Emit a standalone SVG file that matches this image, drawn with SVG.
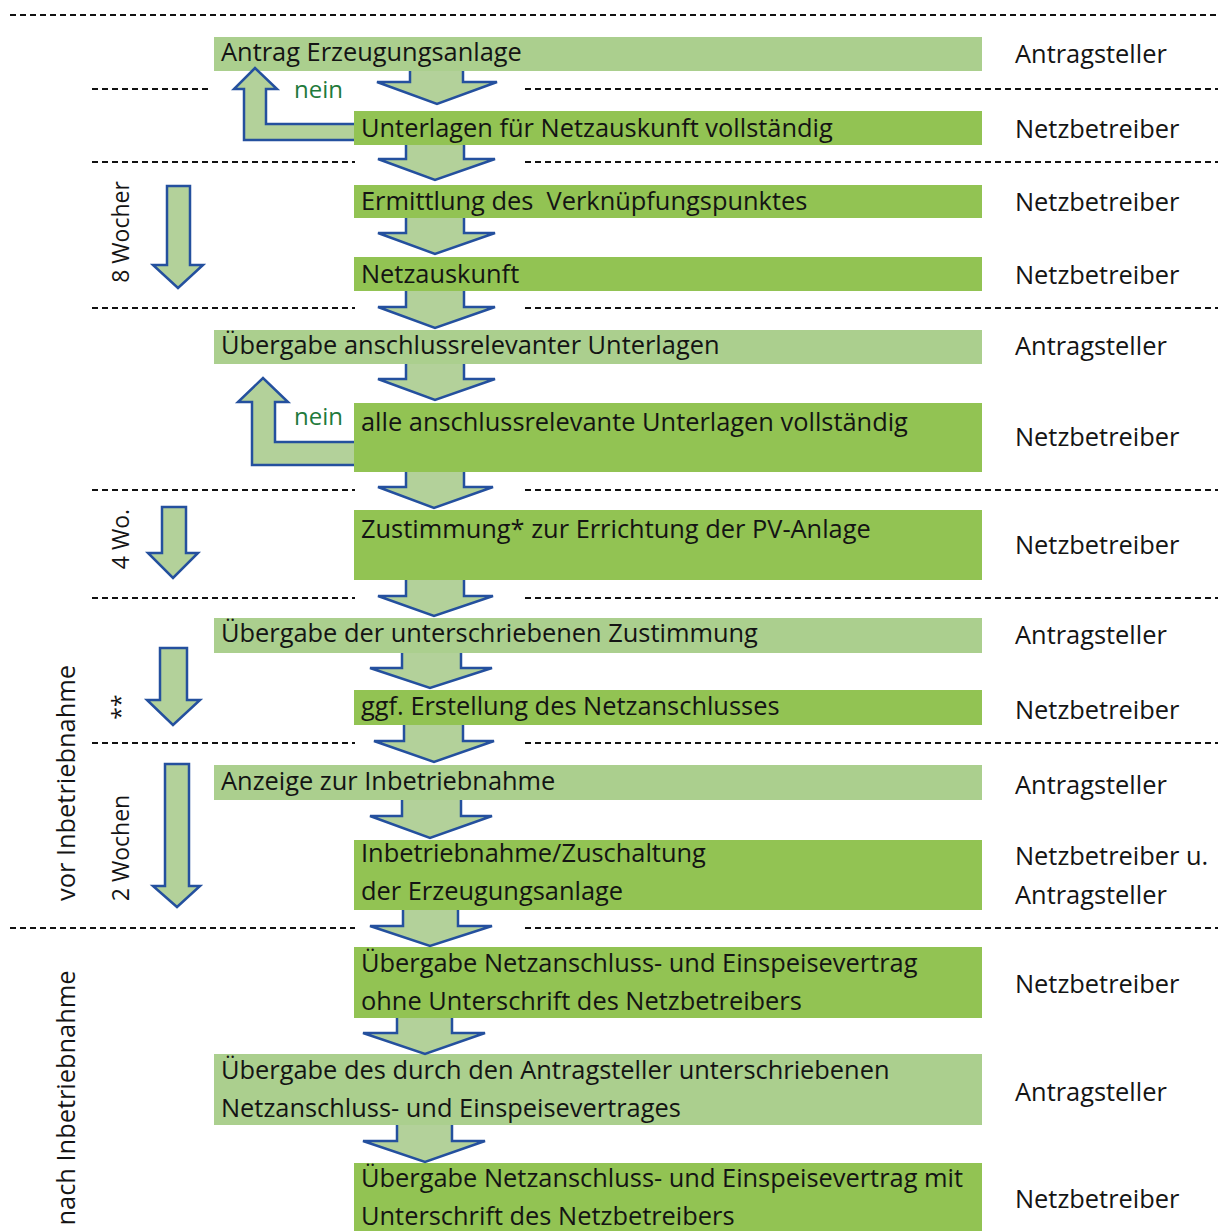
<svg xmlns="http://www.w3.org/2000/svg" width="1218" height="1231" viewBox="0 0 1218 1231">
<style>
text{font-family:"Open Sans","Liberation Sans",sans-serif;font-size:25.4px;fill:#141414}
.lt{fill:#abcf8e}
.bt{fill:#92c353}
.ar{fill:#b3d19a;stroke:#24509e;stroke-width:2.5;stroke-linejoin:miter}
.dl{stroke:#111;stroke-width:2;stroke-dasharray:6 4;fill:none}
.ne{fill:#1f7a3c}
.sd{font-size:23px}
</style>
<rect width="1218" height="1231" fill="#fff"/>
<g id="dividers">
<line class="dl" x1="10" y1="15" x2="1218" y2="15"/>
<line class="dl" x1="92" y1="89" x2="210" y2="89"/><line class="dl" x1="525" y1="89" x2="1218" y2="89"/>
<line class="dl" x1="92" y1="162" x2="355" y2="162"/><line class="dl" x1="525" y1="162" x2="1218" y2="162"/>
<line class="dl" x1="92" y1="308" x2="355" y2="308"/><line class="dl" x1="525" y1="308" x2="1218" y2="308"/>
<line class="dl" x1="92" y1="490" x2="355" y2="490"/><line class="dl" x1="525" y1="490" x2="1218" y2="490"/>
<line class="dl" x1="92" y1="598" x2="355" y2="598"/><line class="dl" x1="525" y1="598" x2="1218" y2="598"/>
<line class="dl" x1="92" y1="743" x2="355" y2="743"/><line class="dl" x1="525" y1="743" x2="1218" y2="743"/>
<line class="dl" x1="10" y1="928" x2="355" y2="928"/><line class="dl" x1="525" y1="928" x2="1218" y2="928"/>
</g>
<g id="n1"><rect class="lt" x="214" y="37" width="768" height="34"/><text x="221" y="61">Antrag Erzeugungsanlage</text><text x="1015" y="63">Antragsteller</text></g>
<g id="n2"><rect class="bt" x="354" y="111" width="628" height="34"/><text x="361" y="137">Unterlagen für Netzauskunft vollständig</text><text x="1015" y="138">Netzbetreiber</text></g>
<g id="n3"><rect class="bt" x="354" y="185" width="628" height="33"/><text x="361" y="210" style="white-space:pre">Ermittlung des  Verknüpfungspunktes</text><text x="1015" y="211">Netzbetreiber</text></g>
<g id="n4"><rect class="bt" x="354" y="257" width="628" height="34"/><text x="361" y="283">Netzauskunft</text><text x="1015" y="284">Netzbetreiber</text></g>
<g id="n5"><rect class="lt" x="214" y="330" width="768" height="34"/><text x="221" y="354">Übergabe anschlussrelevanter Unterlagen</text><text x="1015" y="355">Antragsteller</text></g>
<g id="n6"><rect class="bt" x="354" y="403" width="628" height="69"/><text x="361" y="431">alle anschlussrelevante Unterlagen vollständig</text><text x="1015" y="446">Netzbetreiber</text></g>
<g id="n7"><rect class="bt" x="354" y="510" width="628" height="70"/><text x="361" y="538">Zustimmung* zur Errichtung der PV-Anlage</text><text x="1015" y="554">Netzbetreiber</text></g>
<g id="n8"><rect class="lt" x="214" y="618" width="768" height="35"/><text x="221" y="642">Übergabe der unterschriebenen Zustimmung</text><text x="1015" y="644">Antragsteller</text></g>
<g id="n9"><rect class="bt" x="354" y="690" width="628" height="35"/><text x="361" y="715">ggf. Erstellung des Netzanschlusses</text><text x="1015" y="719">Netzbetreiber</text></g>
<g id="n10"><rect class="lt" x="214" y="765" width="768" height="35"/><text x="221" y="790">Anzeige zur Inbetriebnahme</text><text x="1015" y="794">Antragsteller</text></g>
<g id="n11"><rect class="bt" x="354" y="840" width="628" height="70"/><text x="361" y="862">Inbetriebnahme/Zuschaltung</text><text x="361" y="900">der Erzeugungsanlage</text><text x="1015" y="865">Netzbetreiber u.</text><text x="1015" y="904">Antragsteller</text></g>
<g id="n12"><rect class="bt" x="354" y="947" width="628" height="71"/><text x="361" y="972">Übergabe Netzanschluss- und Einspeisevertrag</text><text x="361" y="1010">ohne Unterschrift des Netzbetreibers</text><text x="1015" y="993">Netzbetreiber</text></g>
<g id="n13"><rect class="lt" x="214" y="1054" width="768" height="71"/><text x="221" y="1079">Übergabe des durch den Antragsteller unterschriebenen</text><text x="221" y="1117">Netzanschluss- und Einspeisevertrages</text><text x="1015" y="1101">Antragsteller</text></g>
<g id="n14"><rect class="bt" x="354" y="1163" width="628" height="68"/><text x="361" y="1187">Übergabe Netzanschluss- und Einspeisevertrag mit</text><text x="361" y="1225">Unterschrift des Netzbetreibers</text><text x="1015" y="1208">Netzbetreiber</text></g>
<g id="connectors">
<path class="ar" d="M410 71V82H377L437 104L497 82H463V71"/>
<path class="ar" d="M406 145V159H378L435 180L495 159H464V145"/>
<path class="ar" d="M406 218V233H378L435 254L495 233H464V218"/>
<path class="ar" d="M406 291V307H378L435 328L495 307H464V291"/>
<path class="ar" d="M406 364V379H378L435 400L495 379H464V364"/>
<path class="ar" d="M406 472V487H378L434 508L493 487H464V472"/>
<path class="ar" d="M406 580V596H378L434 616L493 596H464V580"/>
<path class="ar" d="M402 653V668H370L430 688L492 668H461V653"/>
<path class="ar" d="M404 725V741H374L434 762L494 741H463V725"/>
<path class="ar" d="M402 800V816H370L430 838L492 816H461V800"/>
<path class="ar" d="M403 910V926H370L430 946L492 926H458V910"/>
<path class="ar" d="M397 1018V1033H363L425 1054L485 1033H452V1018"/>
<path class="ar" d="M397 1125V1141H363L425 1162L485 1141H452V1125"/>
<path class="ar" d="M354 124H266V89H277L255 68L234 89H244V140H354"/>
<path class="ar" d="M354 442H275V402H288L263 378L238 402H252V465H354"/>
<path class="ar" d="M167 186V265H153L178 288L203 265H190V186Z"/>
<path class="ar" d="M162 507V553H148L173 578L198 553H186V507Z"/>
<path class="ar" d="M160 648V700H147L173 725L200 700H187V648Z"/>
<path class="ar" d="M165 764V886H153L177 907L200 886H189V764Z"/>
</g>
<g id="labels">
<text class="ne" x="294" y="98" style="font-size:24px">nein</text>
<text class="ne" x="294" y="425" style="font-size:24px">nein</text>
<text class="sd" transform="translate(129,232) rotate(-90)" text-anchor="middle">8 Wocher</text>
<text class="sd" transform="translate(129,539) rotate(-90)" text-anchor="middle">4 Wo.</text>
<text class="sd" transform="translate(129,707) rotate(-90)" text-anchor="middle">**</text>
<text class="sd" transform="translate(129,848) rotate(-90)" text-anchor="middle">2 Wochen</text>
<text transform="translate(75,783) rotate(-90)" text-anchor="middle">vor Inbetriebnahme</text>
<text transform="translate(75,1098) rotate(-90)" text-anchor="middle">nach Inbetriebnahme</text>
</g>
</svg>
